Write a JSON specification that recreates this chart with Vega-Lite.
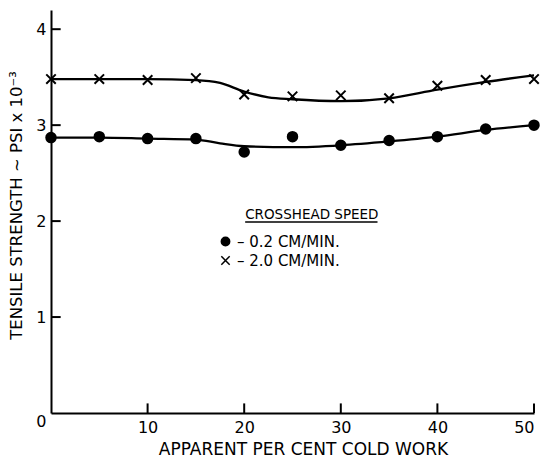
{
  "$schema": "https://vega.github.io/schema/vega-lite/v6.json",
  "width": 483,
  "height": 403,
  "autosize": {"type": "none"},
  "padding": {"left": 51, "top": 10, "right": 13, "bottom": 46},
  "background": "white",
  "config": {
    "view": {"stroke": null},
    "font": "DejaVu Sans",
    "axis": {
      "grid": false,
      "ticks": false,
      "domainColor": "black",
      "domainWidth": 2,
      "labelColor": "black",
      "labelFont": "DejaVu Sans",
      "labelFontSize": 16,
      "titleColor": "black",
      "titleFont": "DejaVu Sans",
      "titleFontWeight": "normal"
    }
  },
  "datasets": {
    "measured": [
      {"pct": 0, "strength": 2.87, "speed": "0.2"},
      {"pct": 5, "strength": 2.88, "speed": "0.2"},
      {"pct": 10, "strength": 2.86, "speed": "0.2"},
      {"pct": 15, "strength": 2.86, "speed": "0.2"},
      {"pct": 20, "strength": 2.72, "speed": "0.2"},
      {"pct": 25, "strength": 2.88, "speed": "0.2"},
      {"pct": 30, "strength": 2.79, "speed": "0.2"},
      {"pct": 35, "strength": 2.84, "speed": "0.2"},
      {"pct": 40, "strength": 2.88, "speed": "0.2"},
      {"pct": 45, "strength": 2.96, "speed": "0.2"},
      {"pct": 50, "strength": 3.00, "speed": "0.2"},
      {"pct": 0, "strength": 3.48, "speed": "2.0"},
      {"pct": 5, "strength": 3.48, "speed": "2.0"},
      {"pct": 10, "strength": 3.47, "speed": "2.0"},
      {"pct": 15, "strength": 3.49, "speed": "2.0"},
      {"pct": 20, "strength": 3.32, "speed": "2.0"},
      {"pct": 25, "strength": 3.30, "speed": "2.0"},
      {"pct": 30, "strength": 3.31, "speed": "2.0"},
      {"pct": 35, "strength": 3.28, "speed": "2.0"},
      {"pct": 40, "strength": 3.41, "speed": "2.0"},
      {"pct": 45, "strength": 3.47, "speed": "2.0"},
      {"pct": 50, "strength": 3.48, "speed": "2.0"}
    ],
    "fitted": [
      {"pct": 0, "strength": 2.87, "speed": "0.2"},
      {"pct": 5, "strength": 2.87, "speed": "0.2"},
      {"pct": 10, "strength": 2.86, "speed": "0.2"},
      {"pct": 15, "strength": 2.85, "speed": "0.2"},
      {"pct": 17.5, "strength": 2.81, "speed": "0.2"},
      {"pct": 20, "strength": 2.78, "speed": "0.2"},
      {"pct": 25, "strength": 2.77, "speed": "0.2"},
      {"pct": 30, "strength": 2.79, "speed": "0.2"},
      {"pct": 35, "strength": 2.83, "speed": "0.2"},
      {"pct": 40, "strength": 2.88, "speed": "0.2"},
      {"pct": 45, "strength": 2.95, "speed": "0.2"},
      {"pct": 50, "strength": 3.00, "speed": "0.2"},
      {"pct": 0, "strength": 3.48, "speed": "2.0"},
      {"pct": 5, "strength": 3.48, "speed": "2.0"},
      {"pct": 10, "strength": 3.48, "speed": "2.0"},
      {"pct": 15, "strength": 3.47, "speed": "2.0"},
      {"pct": 17.5, "strength": 3.44, "speed": "2.0"},
      {"pct": 20, "strength": 3.35, "speed": "2.0"},
      {"pct": 22.5, "strength": 3.29, "speed": "2.0"},
      {"pct": 25, "strength": 3.27, "speed": "2.0"},
      {"pct": 30, "strength": 3.25, "speed": "2.0"},
      {"pct": 35, "strength": 3.28, "speed": "2.0"},
      {"pct": 40, "strength": 3.37, "speed": "2.0"},
      {"pct": 45, "strength": 3.45, "speed": "2.0"},
      {"pct": 50, "strength": 3.52, "speed": "2.0"}
    ],
    "xTicks": [{"pct": 10}, {"pct": 20}, {"pct": 30}, {"pct": 40}, {"pct": 50}],
    "yTicks": [{"strength": 1}, {"strength": 2}, {"strength": 3}, {"strength": 4}],
    "legendHeading": [
      {"pct": 20.1, "pct2": 33.8, "strength": 2.06, "line": 1.99, "text": "CROSSHEAD SPEED"}
    ]
  },
  "layer": [
    {
      "data": {"name": "fitted"},
      "mark": {"type": "line", "color": "black", "strokeWidth": 2.3, "interpolate": "monotone"},
      "encoding": {
        "x": {"field": "pct", "type": "quantitative"},
        "y": {"field": "strength", "type": "quantitative"},
        "detail": {"field": "speed"}
      }
    },
    {
      "data": {"name": "measured"},
      "mark": {"type": "point", "filled": true, "fill": "black", "stroke": "black", "strokeWidth": 2, "opacity": 1},
      "encoding": {
        "x": {
          "field": "pct",
          "type": "quantitative",
          "scale": {"domain": [0, 50], "nice": false},
          "axis": {
            "values": [10, 20, 30, 40, 50],
            "labelPadding": 6,
            "title": "APPARENT PER CENT COLD WORK",
            "titleFontSize": 17,
            "titleX": 252,
            "titleAlign": "center",
            "titlePadding": 6
          }
        },
        "y": {
          "field": "strength",
          "type": "quantitative",
          "scale": {"domain": [0, 4.2], "nice": false},
          "axis": {
            "values": [0, 1, 2, 3, 4],
            "format": "d",
            "labelPadding": 5,
            "labelBaseline": {"condition": {"test": "datum.value == 0", "value": "top"}, "value": "middle"},
            "title": "TENSILE STRENGTH ~ PSI x 10⁻³",
            "titleFontSize": 16.5,
            "titleX": -35,
            "titleY": 195,
            "titleAlign": "center",
            "titleBaseline": "middle"
          }
        },
        "shape": {
          "field": "speed",
          "type": "nominal",
          "scale": {"domain": ["0.2", "2.0"], "range": ["circle", "M-1,-1L1,1M-1,1L1,-1"]},
          "legend": {
            "orient": "none",
            "legendX": 167,
            "legendY": 224,
            "title": null,
            "labelExpr": "'– ' + datum.label + ' CM/MIN.'",
            "labelFont": "DejaVu Sans",
            "labelFontSize": 15,
            "labelColor": "black",
            "labelOffset": 4,
            "symbolSize": 70,
            "rowPadding": 3,
            "encode": {
              "symbols": {
                "update": {
                  "fill": {"value": "black"},
                  "stroke": {"value": "black"},
                  "strokeWidth": {"value": 1.8},
                  "opacity": {"value": 1}
                }
              }
            }
          }
        },
        "size": {"value": 90}
      }
    },
    {
      "data": {"name": "xTicks"},
      "mark": {"type": "rule", "color": "black", "strokeWidth": 2},
      "encoding": {
        "x": {"field": "pct", "type": "quantitative"},
        "y": {"datum": 0, "type": "quantitative"},
        "y2": {"datum": 0.1}
      }
    },
    {
      "data": {"name": "yTicks"},
      "mark": {"type": "rule", "color": "black", "strokeWidth": 2},
      "encoding": {
        "y": {"field": "strength", "type": "quantitative"},
        "x": {"datum": 0, "type": "quantitative"},
        "x2": {"datum": 1}
      }
    },
    {
      "data": {"name": "legendHeading"},
      "mark": {"type": "text", "align": "left", "baseline": "middle", "font": "DejaVu Sans", "fontSize": 13.5, "color": "black"},
      "encoding": {
        "x": {"field": "pct", "type": "quantitative"},
        "y": {"field": "strength", "type": "quantitative"},
        "text": {"field": "text"}
      }
    },
    {
      "data": {"name": "legendHeading"},
      "mark": {"type": "rule", "color": "black", "strokeWidth": 1.5},
      "encoding": {
        "x": {"field": "pct", "type": "quantitative"},
        "x2": {"field": "pct2"},
        "y": {"field": "line", "type": "quantitative"}
      }
    }
  ]
}
